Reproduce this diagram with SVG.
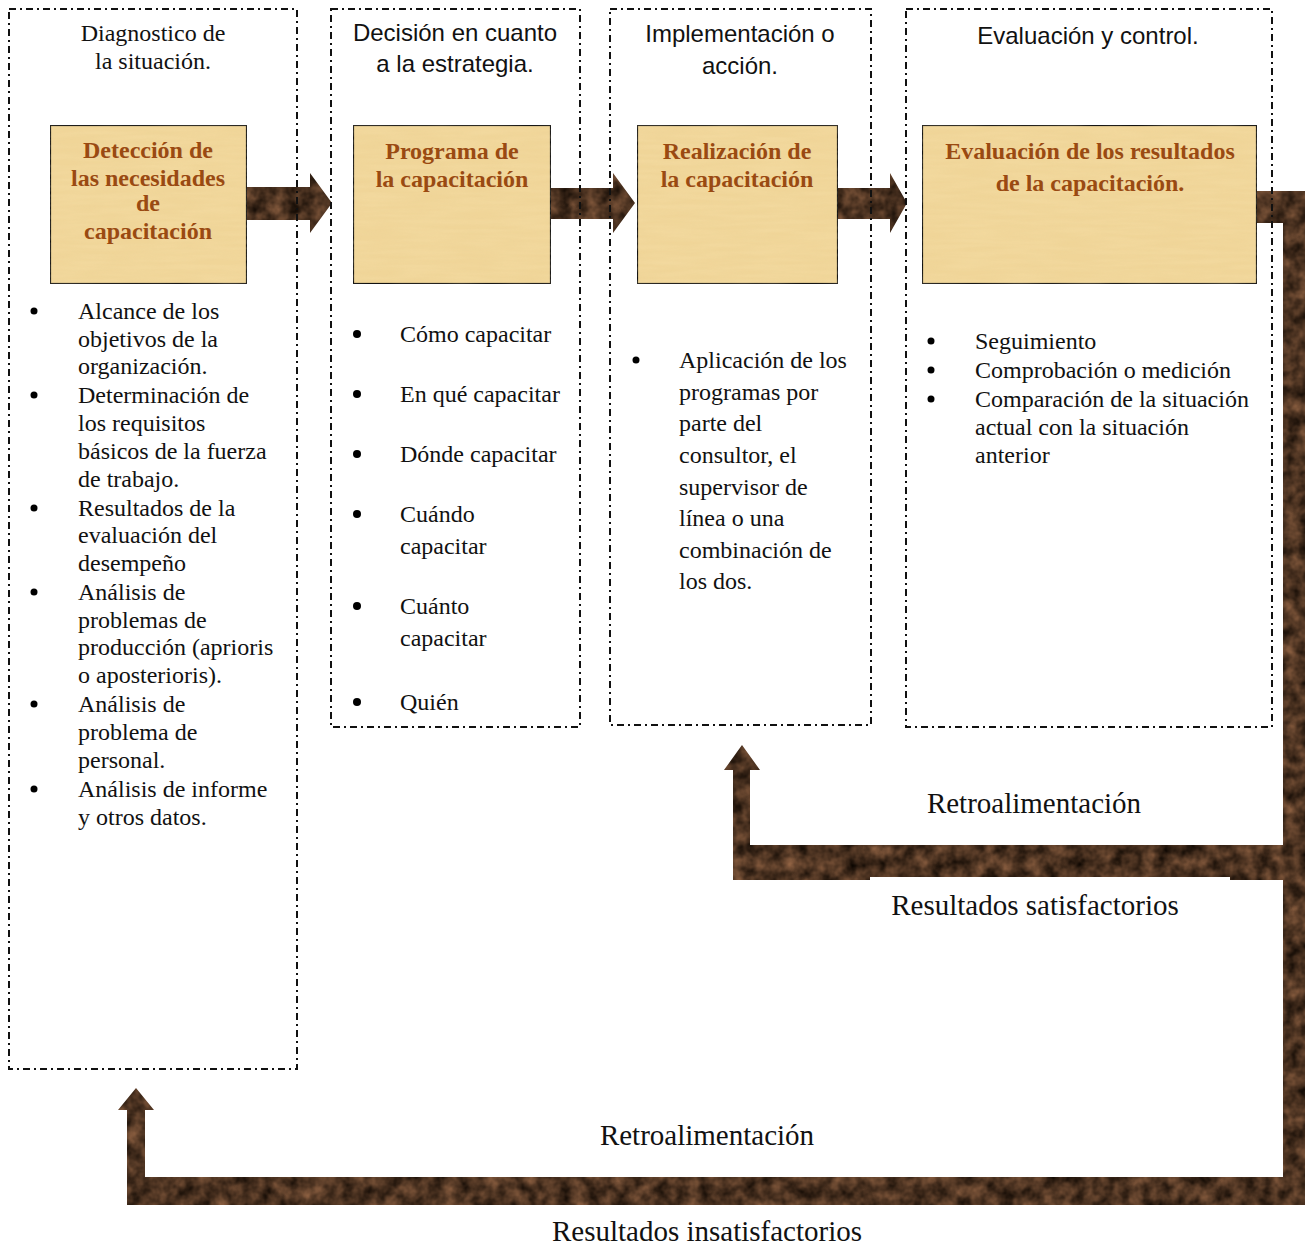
<svg xmlns="http://www.w3.org/2000/svg" width="1309" height="1245" viewBox="0 0 1309 1245">
<style>
.frame{fill:none;stroke:#111;stroke-width:2;stroke-dasharray:7 4 2 4}
.box{fill:#f0d598;stroke:#111;stroke-width:2.2}
.bt{font-family:"Liberation Serif",serif;font-weight:bold;font-size:24px;fill:#9a4a12;text-anchor:middle}
.hs{font-family:"Liberation Sans",Arial,sans-serif;font-size:24px;fill:#111;text-anchor:middle}
.hr{font-family:"Liberation Serif",serif;font-size:24px;fill:#111;text-anchor:middle}
.li{font-family:"Liberation Serif",serif;font-size:24px;fill:#111}
.lab{font-family:"Liberation Serif",serif;font-size:29px;fill:#111;text-anchor:middle}
.dot{fill:#000}
</style>
<defs>
<filter id="marble" filterUnits="userSpaceOnUse" x="0" y="0" width="1309" height="1245" color-interpolation-filters="sRGB">
<feTurbulence type="fractalNoise" baseFrequency="0.07" numOctaves="3" seed="4" result="n"/>
<feColorMatrix in="n" type="matrix" values="0.6 0 0 0 0.0  0.42 0 0 0 -0.01  0.3 0 0 0 -0.02  0 0 0 0 1" result="c"/>
<feComposite in="c" in2="SourceGraphic" operator="in"/>
</filter>
<filter id="paper" filterUnits="objectBoundingBox" x="0" y="0" width="1" height="1" color-interpolation-filters="sRGB">
<feTurbulence type="fractalNoise" baseFrequency="0.02 0.2" numOctaves="2" seed="2" result="n"/>
<feColorMatrix in="n" type="matrix" values="0 0 0 0 0.98  0 0 0 0 0.9  0 0 0 0 0.7  0 0 0 0.4 -0.1" result="c"/>
<feComposite in="c" in2="SourceGraphic" operator="in" result="t"/>
<feMerge><feMergeNode in="SourceGraphic"/><feMergeNode in="t"/></feMerge>
</filter>
</defs>
<rect width="1309" height="1245" fill="#fff"/>

<g id="connectors" filter="url(#marble)" fill="#5a3b26">
<polygon points="247,187 310,187 310,173 332,203 310,233 310,220 247,220"/>
<polygon points="551,188 613,188 613,173 635,203 613,233 613,219 551,219"/>
<polygon points="838,188 890,188 890,173 907,203 890,233 890,219 838,219"/>
<rect x="1257" y="191" width="48" height="32"/>
<rect x="1283" y="191" width="22" height="1014"/>
<rect x="733" y="845" width="572" height="35"/>
<polygon points="733,845 733,770 724,770 742,745 760,770 750,770 750,845"/>
<rect x="127" y="1177" width="1178" height="28"/>
<polygon points="127,1177 127,1110 118,1110 136,1088 154,1110 145,1110 145,1177"/>
</g>

<g id="col1">
<rect class="frame" x="9" y="9" width="288" height="1060"/>
<text class="hr" x="153" y="41">Diagnostico de</text>
<text class="hr" x="153" y="69">la situación.</text>
</g>
<g id="col2">
<rect class="frame" x="331" y="9" width="249" height="718"/>
<text class="hs" x="455" y="41">Decisión en cuanto</text>
<text class="hs" x="455" y="72">a la estrategia.</text>
</g>
<g id="col3">
<rect class="frame" x="610" y="9" width="261" height="716"/>
<text class="hs" x="740" y="42">Implementación o</text>
<text class="hs" x="740" y="74">acción.</text>
</g>
<g id="col4">
<rect class="frame" x="906" y="9" width="366" height="718"/>
<text class="hs" x="1088" y="44">Evaluación y control.</text>
</g>

<g id="box1">
<rect class="box" filter="url(#paper)" x="50" y="125" width="197" height="159"/>
<text class="bt" x="148" y="158">Detección de</text>
<text class="bt" x="148" y="186">las necesidades</text>
<text class="bt" x="148" y="211">de</text>
<text class="bt" x="148" y="239">capacitación</text>
</g>
<g id="box2">
<rect class="box" filter="url(#paper)" x="353" y="125" width="198" height="159"/>
<text class="bt" x="452" y="159">Programa de</text>
<text class="bt" x="452" y="187">la capacitación</text>
</g>
<g id="box3">
<rect class="box" filter="url(#paper)" x="637" y="125" width="201" height="159"/>
<text class="bt" x="737" y="159">Realización de</text>
<text class="bt" x="737" y="187">la capacitación</text>
</g>
<g id="box4">
<rect class="box" filter="url(#paper)" x="922" y="125" width="335" height="159"/>
<text class="bt" x="1090" y="159">Evaluación de los resultados</text>
<text class="bt" x="1090" y="191">de la capacitación.</text>
</g>

<g id="list1">
<circle class="dot" cx="34" cy="311" r="3.5"/>
<circle class="dot" cx="34" cy="395" r="3.5"/>
<circle class="dot" cx="34" cy="508" r="3.5"/>
<circle class="dot" cx="34" cy="592" r="3.5"/>
<circle class="dot" cx="34" cy="704" r="3.5"/>
<circle class="dot" cx="34" cy="789" r="3.5"/>
<text class="li" x="78" y="319">Alcance de los</text>
<text class="li" x="78" y="347">objetivos de la</text>
<text class="li" x="78" y="374">organización.</text>
<text class="li" x="78" y="403">Determinación de</text>
<text class="li" x="78" y="431">los requisitos</text>
<text class="li" x="78" y="459">básicos de la fuerza</text>
<text class="li" x="78" y="487">de trabajo.</text>
<text class="li" x="78" y="516">Resultados de la</text>
<text class="li" x="78" y="543">evaluación del</text>
<text class="li" x="78" y="571">desempeño</text>
<text class="li" x="78" y="600">Análisis de</text>
<text class="li" x="78" y="628">problemas de</text>
<text class="li" x="78" y="655">producción (aprioris</text>
<text class="li" x="78" y="683">o aposterioris).</text>
<text class="li" x="78" y="712">Análisis de</text>
<text class="li" x="78" y="740">problema de</text>
<text class="li" x="78" y="768">personal.</text>
<text class="li" x="78" y="797">Análisis de informe</text>
<text class="li" x="78" y="825">y otros datos.</text>
</g>

<g id="list2">
<circle class="dot" cx="357" cy="334" r="4"/>
<circle class="dot" cx="357" cy="394" r="4"/>
<circle class="dot" cx="357" cy="454" r="4"/>
<circle class="dot" cx="357" cy="514" r="4"/>
<circle class="dot" cx="357" cy="606" r="4"/>
<circle class="dot" cx="357" cy="702" r="4"/>
<text class="li" x="400" y="342">Cómo capacitar</text>
<text class="li" x="400" y="402">En qué capacitar</text>
<text class="li" x="400" y="462">Dónde capacitar</text>
<text class="li" x="400" y="522">Cuándo</text>
<text class="li" x="400" y="554">capacitar</text>
<text class="li" x="400" y="614">Cuánto</text>
<text class="li" x="400" y="646">capacitar</text>
<text class="li" x="400" y="710">Quién</text>
</g>

<g id="list3">
<circle class="dot" cx="636" cy="360" r="3.5"/>
<text class="li" x="679" y="368">Aplicación de los</text>
<text class="li" x="679" y="400">programas por</text>
<text class="li" x="679" y="431">parte del</text>
<text class="li" x="679" y="463">consultor, el</text>
<text class="li" x="679" y="495">supervisor de</text>
<text class="li" x="679" y="526">línea o una</text>
<text class="li" x="679" y="558">combinación de</text>
<text class="li" x="679" y="589">los dos.</text>
</g>

<g id="list4">
<circle class="dot" cx="931" cy="341" r="3.5"/>
<circle class="dot" cx="931" cy="370" r="3.5"/>
<circle class="dot" cx="931" cy="399" r="3.5"/>
<text class="li" x="975" y="349">Seguimiento</text>
<text class="li" x="975" y="378">Comprobación o medición</text>
<text class="li" x="975" y="407">Comparación de la situación</text>
<text class="li" x="975" y="435">actual con la situación</text>
<text class="li" x="975" y="463">anterior</text>
</g>

<g id="labels">
<rect x="870" y="877" width="360" height="50" fill="#fff"/>
<rect x="580" y="1110" width="277" height="67" fill="#fff"/>
<text class="lab" x="1034" y="813">Retroalimentación</text>
<text class="lab" x="1035" y="915">Resultados satisfactorios</text>
<text class="lab" x="707" y="1145">Retroalimentación</text>
<text class="lab" x="707" y="1241">Resultados insatisfactorios</text>
</g>
</svg>
